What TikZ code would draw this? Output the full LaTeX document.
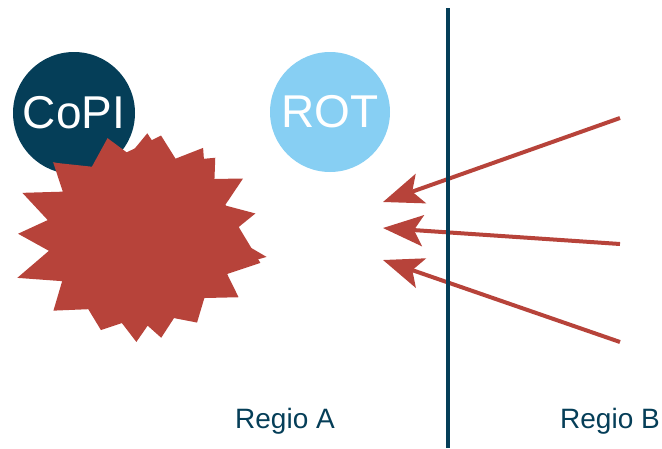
\documentclass[tikz,border=0pt]{standalone}
\usepackage{fontspec}
\setmainfont{Liberation Sans}
\usetikzlibrary{arrows.meta}
\definecolor{navy}{HTML}{053E58}
\definecolor{sky}{HTML}{87CFF3}
\definecolor{brick}{HTML}{B7433A}
\tikzset{
  circ/.style={circle, inner sep=0pt, text=white, font=\fontsize{46}{46}\selectfont},
  arr/.style={draw=brick, line width=4pt, -{Stealth[length=40pt,width=31pt,inset=9pt,fill=brick]}},
  divider/.style={draw=navy, line width=3.5pt},
  lbl/.style={anchor=base, text=navy, inner sep=0pt, font=\fontsize{28}{28}\selectfont}
}
\begin{document}
\begin{tikzpicture}[x=1pt,y=-1pt]
\useasboundingbox (0,0) rectangle (662,448);
\node[circ, fill=navy, minimum size=122pt] (copi) at (74,113) {CoPI};
\node[circ, fill=sky, minimum size=120pt] (rot) at (330,112) {ROT};
\fill[brick, shift={(140,238)}] (-86:105) -- (-71:80) -- (-55:110) -- (-42:88) -- (-30:119) -- (-21:91) -- (-12:118) -- (-2:89) -- (8.5:128) -- (20:90) -- (31:115) -- (43:88) -- (56:102) -- (67:87) -- (78:102) -- (85:88) -- (92:104) -- (102:87) -- (113:100) -- (126:88) -- (140:113) -- (151:89) -- (162:129) -- (172:92) -- (182:122) -- (191:94) -- (201:126) -- (211:90) -- (221:115) -- (236:86) -- (252:105) -- (263:84) -- cycle;
\fill[brick, shift={(143,238)}] (-80:104) -- (-66:84) -- (-48:108) -- (-36:88) -- (12:120) -- (24:90) -- (220:118) -- (232:86) -- cycle;
\coordinate (a1s) at (620,118);
\coordinate (a1e) at (383,202);
\coordinate (a2s) at (620,244);
\coordinate (a2e) at (383,228);
\coordinate (a3s) at (620,342);
\coordinate (a3e) at (383,260);
\draw[arr] (a1s) -- (a1e);
\draw[arr] (a2s) -- (a2e);
\draw[arr] (a3s) -- (a3e);
\coordinate (dtop) at (448,8);
\coordinate (dbot) at (448,448);
\draw[divider] (dtop) -- (dbot);
\node[lbl] (ra) at (285,428) {Regio A};
\node[lbl] (rb) at (610,428) {Regio B};
\end{tikzpicture}
\end{document}
